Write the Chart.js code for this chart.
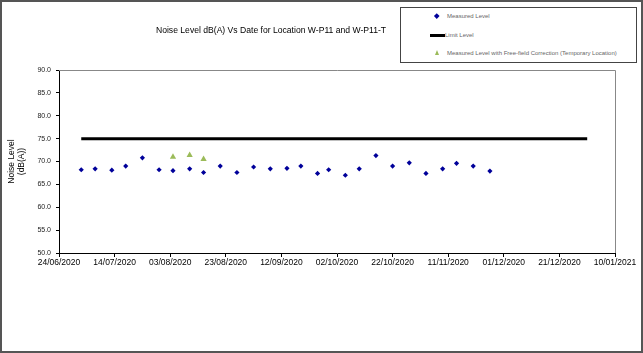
<!DOCTYPE html>
<html>
<head>
<meta charset="utf-8">
<script src="https://cdn.jsdelivr.net/npm/chart.js@4/dist/chart.umd.min.js"></script>
<style>
  body { margin: 0; background: #fff; font-family: "Liberation Sans", Arial, sans-serif; }
  #wrap { position: relative; width: 643px; height: 353px; }
  #chart { position: absolute; left: 0; top: 0; }
  #frame { position: absolute; left: 0; top: 0; width: 639px; height: 349px; border: 2px solid #555; pointer-events: none; }
  #title { position: absolute; left: 100px; width: 342px; top: 25px; text-align: center; font-size: 8.6px; color: #000; }
  #legend { position: absolute; left: 400px; top: 7px; width: 235px; height: 54px; border: 1.5px solid #444; background: #fff; font-size: 6px; color: #666; }
  .item { position: absolute; left: 0; height: 10px; line-height: 10px; white-space: nowrap; }
  .item span.t { position: absolute; left: 46px; }
  .dia { position: absolute; left: 34px; top: 3px; width: 3.5px; height: 3.5px; background: #00009a; transform: rotate(45deg); }
  .lim { position: absolute; left: 29px; top: 4px; width: 15px; height: 2.5px; background: #000; }
  .tri { position: absolute; left: 34px; top: 2px; width: 0; height: 0; border-left: 2.5px solid transparent; border-right: 2.5px solid transparent; border-bottom: 5px solid #9bbb59; }
</style>
</head>
<body>
<div id="wrap">
  <canvas id="chart" width="643" height="353"></canvas>
  <div id="title">Noise Level dB(A) Vs Date for Location W-P11 and W-P11-T</div>
  <div id="legend">
    <div class="item" style="top:3px"><i class="dia"></i><span class="t">Measured Level</span></div>
    <div class="item" style="top:22px"><i class="lim"></i><span class="t" style="left:44px">Limit Level</span></div>
    <div class="item" style="top:40px"><i class="tri"></i><span class="t">Measured Level with Free-field Correction (Temporary Location)</span></div>
  </div>
  <div id="frame"></div>
</div>
<script>
// measured level (dB(A))
const measuredDates = ['02/07/2020', '07/07/2020', '13/07/2020', '18/07/2020', '24/07/2020', '30/07/2020',
    '04/08/2020', '10/08/2020', '15/08/2020', '21/08/2020', '27/08/2020', '02/09/2020', '08/09/2020',
    '14/09/2020', '19/09/2020', '25/09/2020', '29/09/2020', '05/10/2020', '10/10/2020', '16/10/2020',
    '22/10/2020', '28/10/2020', '03/11/2020', '09/11/2020', '14/11/2020', '20/11/2020', '26/11/2020'];
const measuredLevels = [68.2, 68.4, 68.1, 69.0, 70.8, 68.2,
    68.0, 68.4, 67.6, 69.0, 67.6, 68.8, 68.4,
    68.5, 69.0, 67.4, 68.2, 67.0, 68.4, 71.3,
    69.0, 69.7, 67.4, 68.4, 69.6, 69.0, 67.9];

// free-field corrected (temporary location)
const correctedDates = ['04/08/2020', '10/08/2020', '15/08/2020'];
const correctedLevels = [71.0, 71.4, 70.5];

// limit
const limitDates = ['02/07/2020', '31/12/2020'];
const limitLevels = [75, 75];

const xMinDate = '24/06/2020';
const xMaxDate = '10/01/2021';
const yMin = 50, yMax = 90, yStep = 5;

const DAY = 86400000;

function toMs(s) {
    const [d, m, y] = s.split('/').map(Number);
    return Date.UTC(y, m - 1, d);
}
function fmt(ms) {
    const dt = new Date(ms);
    const dd = String(dt.getUTCDate()).padStart(2, '0');
    const mm = String(dt.getUTCMonth() + 1).padStart(2, '0');
    return `${dd}/${mm}/${dt.getUTCFullYear()}`;
}
const pts = (dates, vals) => dates.map((d, i) => ({ x: toMs(d), y: vals[i] }));

const plotFrame = {
    id: 'plotFrame',
    afterDatasetsDraw(chart) {
        const { ctx, chartArea: a } = chart;
        ctx.save();
        ctx.strokeStyle = '#888';
        ctx.lineWidth = 1;
        ctx.beginPath();
        ctx.moveTo(a.left, a.top + 0.5);
        ctx.lineTo(a.right + 0.5, a.top + 0.5);
        ctx.lineTo(a.right + 0.5, a.bottom);
        ctx.stroke();
        ctx.restore();
    }
};

new Chart(document.getElementById('chart').getContext('2d'), {
    type: 'scatter',
    data: {
        datasets: [{
            label: 'Limit Level',
            type: 'line',
            data: pts(limitDates, limitLevels),
            borderColor: '#000',
            borderWidth: 3,
            pointRadius: 0,
            order: 3
        }, {
            label: 'Measured Level',
            data: pts(measuredDates, measuredLevels),
            pointStyle: 'rectRot',
            pointRadius: 2.6,
            backgroundColor: '#00009a',
            borderColor: '#00009a',
            borderWidth: 0,
            order: 1
        }, {
            label: 'Measured Level with Free-field Correction (Temporary Location)',
            data: pts(correctedDates, correctedLevels),
            pointStyle: 'triangle',
            pointRadius: 3.6,
            backgroundColor: '#9bbb59',
            borderColor: '#9bbb59',
            borderWidth: 0,
            order: 2
        }]
    },
    options: {
        responsive: false,
        animation: false,
        layout: { padding: { left: 4, top: 70, right: 28, bottom: 80 } },
        plugins: {
            legend: { display: false },
            title: { display: false },
            tooltip: { enabled: false }
        },
        scales: {
            x: {
                type: 'linear',
                min: toMs(xMinDate),
                max: toMs(xMaxDate),
                afterBuildTicks(scale) {
                    const t = [];
                    for (let v = toMs(xMinDate); v <= toMs(xMaxDate); v += 20 * DAY) t.push({ value: v });
                    scale.ticks = t;
                },
                afterFit(scale) { scale.height = 20; },
                ticks: {
                    callback: v => fmt(v),
                    color: '#000',
                    font: { family: 'Liberation Sans', size: 8.5 },
                    maxRotation: 0,
                    autoSkip: false,
                    padding: 1
                },
                grid: { drawOnChartArea: false, drawTicks: true, tickLength: 4, color: '#000' },
                border: { color: '#000', width: 1 }
            },
            y: {
                min: yMin,
                max: yMax,
                afterFit(scale) { scale.width = 55; },
                ticks: {
                    stepSize: yStep,
                    callback: v => v.toFixed(1),
                    color: '#222',
                    font: { family: 'Liberation Sans', size: 7 },
                    padding: 5
                },
                grid: { drawOnChartArea: false, drawTicks: true, tickLength: 3, color: '#000' },
                border: { color: '#000', width: 1 },
                title: {
                    display: true,
                    text: ['Noise Level', '(dB(A))'],
                    color: '#000',
                    font: { family: 'Liberation Sans', size: 8.5, lineHeight: 1.15 },
                    padding: { top: 3, bottom: 0 }
                }
            }
        }
    },
    plugins: [plotFrame]
});
</script>
</body>
</html>
